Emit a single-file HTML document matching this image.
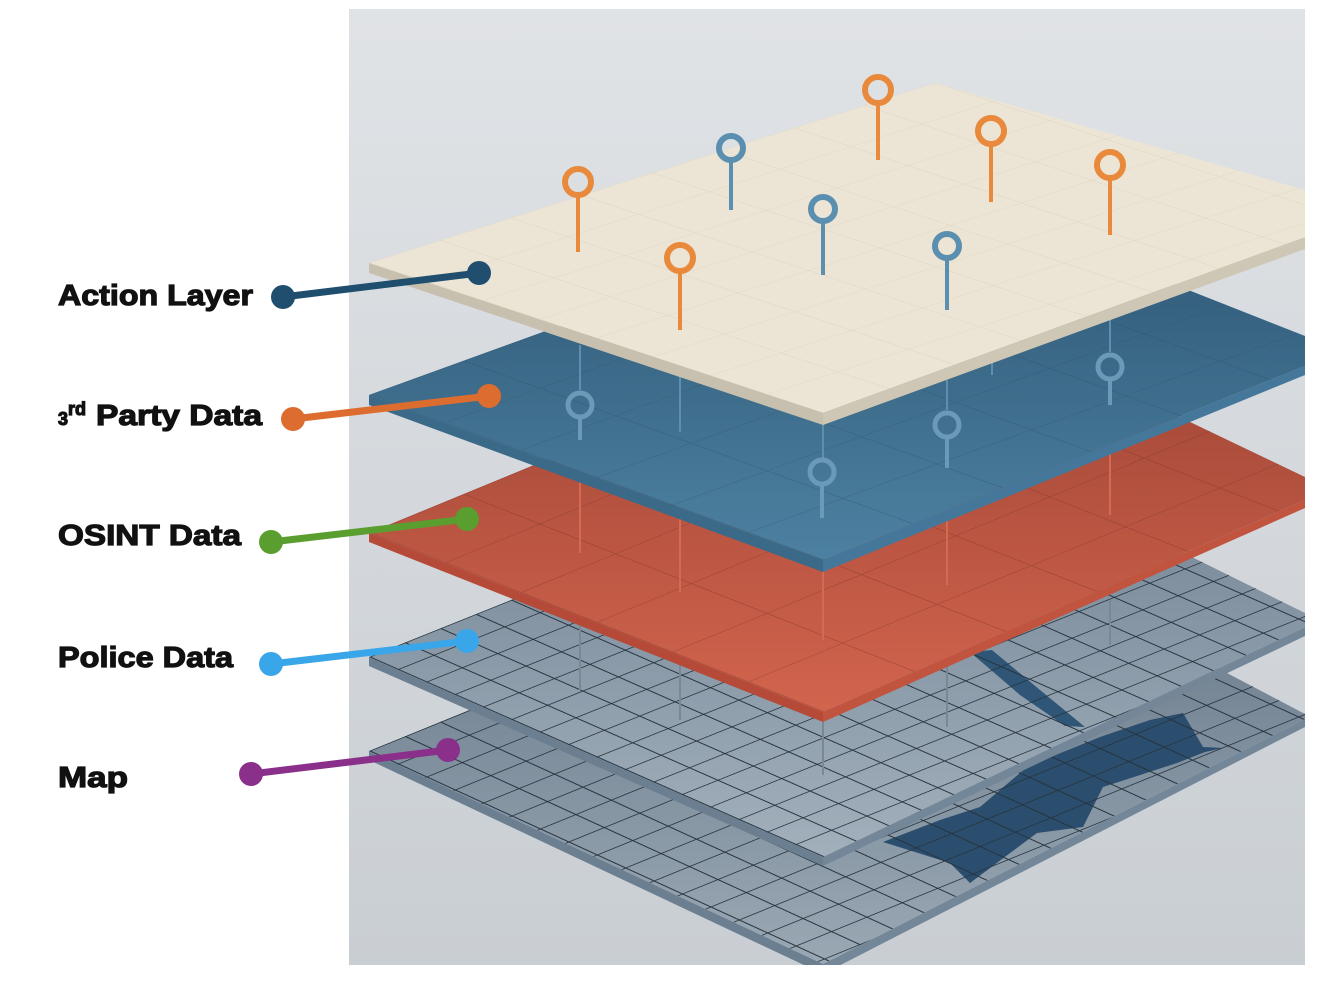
<!DOCTYPE html>
<html><head><meta charset="utf-8"><style>
html,body{margin:0;padding:0;background:#fff;width:1326px;height:981px;overflow:hidden}
svg{display:block}
</style></head><body>
<svg width="1326" height="981" viewBox="0 0 1326 981" xmlns="http://www.w3.org/2000/svg">
<defs>
<linearGradient id="bg" x1="0" y1="0" x2="0" y2="1">
<stop offset="0" stop-color="#e0e3e6"/><stop offset="1" stop-color="#c9ced3"/></linearGradient>
<clipPath id="panel"><rect x="349" y="9" width="956" height="956"/></clipPath>
<linearGradient id="blueG" x1="0" y1="0" x2="0" y2="1">
<stop offset="0" stop-color="#2c5472"/><stop offset="1" stop-color="#4d81a1"/></linearGradient>
<linearGradient id="redG" x1="0" y1="0" x2="0" y2="1">
<stop offset="0" stop-color="#9a4234"/><stop offset="1" stop-color="#d2644d"/></linearGradient>
<linearGradient id="polG" x1="0" y1="0" x2="0" y2="1">
<stop offset="0" stop-color="#6f8090"/><stop offset="1" stop-color="#a2b0bc"/></linearGradient>
<linearGradient id="mapG" x1="0" y1="0" x2="0" y2="1">
<stop offset="0" stop-color="#627383"/><stop offset="1" stop-color="#9aa8b4"/></linearGradient>
<pattern id="gA" width="100" height="100" patternUnits="userSpaceOnUse" patternTransform="matrix(0.5675,0.1875,0.7075,-0.225,369,263)"><path d="M0 0H100M0 0V100" stroke="#ddd4c1" stroke-width="2" fill="none"/></pattern>
<pattern id="gB" width="100" height="100" patternUnits="userSpaceOnUse" patternTransform="matrix(0.757,0.275,0.943,-0.342,369,395)"><path d="M0 0H100M0 0V100" stroke="#2b4f68" stroke-width="2" fill="none" opacity="0.45"/></pattern>
<pattern id="gR" width="100" height="100" patternUnits="userSpaceOnUse" patternTransform="matrix(0.757,0.298,0.943,-0.388,369,533)"><path d="M0 0H100M0 0V100" stroke="#7e3328" stroke-width="2" fill="none" opacity="0.5"/></pattern>
<pattern id="gP" width="100" height="100" patternUnits="userSpaceOnUse" patternTransform="matrix(0.284,0.125,0.354,-0.142,369,657)"><path d="M0 0H100M0 0V100" stroke="#26333f" stroke-width="7" fill="none"/></pattern>
<pattern id="gM" width="100" height="100" patternUnits="userSpaceOnUse" patternTransform="matrix(0.284,0.13,0.354,-0.144,369,751)"><path d="M0 0H100M0 0V100" stroke="#26333f" stroke-width="7" fill="none"/></pattern>
</defs>
<rect x="349" y="9" width="956" height="956" fill="url(#bg)"/>
<g clip-path="url(#panel)">
<polygon points="369,751 823,964 823,974 369,760" fill="#6b7f91"/>
<polygon points="823,964 1305,719 1305,727 823,974" fill="#738799"/>
<polygon points="369,751 935,520 1305,714 1305,719 823,964" fill="url(#mapG)"/>
<polygon points="883,842 940,820 980,807 1027,767 1063,752 1100,737 1150,720 1183,713 1203,747 1223,748 1205,752 1177,763 1103,787 1083,827 1037,833 970,883 950,863" fill="#2b4e6e"/>
<polygon points="369,751 935,520 1305,714 1305,719 823,964" fill="url(#gM)"/>
<polygon points="369,657 823,857 823,866 369,666" fill="#6b7f91"/>
<polygon points="823,857 1305,627 1305,636 823,866" fill="#738799"/>
<polygon points="369,657 935,430 1305,613 1305,627 823,857" fill="url(#polG)"/>
<polygon points="970,652 992,650 1040,690 1085,727 1065,726 1020,695" fill="#2f5676"/>
<polygon points="369,657 935,430 1305,613 1305,627 823,857" fill="url(#gP)"/>
<g stroke="#7b8794" stroke-width="2"><line x1="580" y1="620" x2="580" y2="690"/><line x1="680" y1="650" x2="680" y2="720"/><line x1="823" y1="700" x2="823" y2="775"/><line x1="947" y1="660" x2="947" y2="727"/><line x1="1110" y1="600" x2="1110" y2="645"/></g>
<polygon points="369,533 823,712 823,722 369,542" fill="#b64a38"/>
<polygon points="823,712 1305,500 1305,508 823,722" fill="#c0543f"/>
<polygon points="369,533 935,300 1305,477 1305,500 823,712" fill="url(#redG)"/>
<polygon points="369,533 935,300 1305,477 1305,500 823,712" fill="url(#gR)"/>
<g stroke="#d46a52" stroke-width="2"><line x1="580" y1="480" x2="580" y2="553"/><line x1="680" y1="500" x2="680" y2="592"/><line x1="823" y1="560" x2="823" y2="640"/><line x1="947" y1="500" x2="947" y2="585"/><line x1="1110" y1="450" x2="1110" y2="515"/></g>
<polygon points="369,395 823,560 823,572 369,405" fill="#3b6988"/>
<polygon points="823,560 1305,366 1305,375 823,572" fill="#44779a"/>
<polygon points="369,395 935,190 1305,336 1305,366 823,560" fill="url(#blueG)"/>
<polygon points="369,395 935,190 1305,336 1305,366 823,560" fill="url(#gB)"/>
<g stroke="#5e8fae" stroke-width="2"><line x1="580" y1="345" x2="580" y2="390"/><line x1="680" y1="355" x2="680" y2="432"/><line x1="823" y1="420" x2="823" y2="458"/><line x1="947" y1="380" x2="947" y2="410"/><line x1="1110" y1="315" x2="1110" y2="352"/><line x1="992" y1="355" x2="992" y2="375"/></g>
<g fill="none" stroke="#6b9ab8" stroke-width="5">
<circle cx="580" cy="405" r="12"/><circle cx="947" cy="425" r="12"/><circle cx="822" cy="472" r="12"/><circle cx="1110" cy="367" r="12"/></g>
<g stroke="#6b9ab8" stroke-width="4"><line x1="580" y1="417" x2="580" y2="440"/><line x1="947" y1="437" x2="947" y2="468"/><line x1="822" y1="484" x2="822" y2="518"/><line x1="1110" y1="379" x2="1110" y2="405"/></g>
<polygon points="369,263 823,413 823,425 369,273" fill="#c8c0ae"/>
<polygon points="823,413 1305,237 1305,249 823,425" fill="#cfc7b5"/>
<polygon points="369,263 935,83 1305,190 1305,237 823,413" fill="#ece5d5"/>
<polygon points="369,263 935,83 1305,190 1305,237 823,413" fill="url(#gA)"/>
<g stroke="#e8893c" stroke-width="4"><line x1="578" y1="196" x2="578" y2="252"/><line x1="680" y1="272" x2="680" y2="330"/><line x1="878" y1="104" x2="878" y2="160"/><line x1="991" y1="145" x2="991" y2="202"/><line x1="1110" y1="179" x2="1110" y2="235"/></g>
<g fill="none" stroke="#e8893c" stroke-width="6"><circle cx="578" cy="182" r="13"/><circle cx="680" cy="258" r="13"/><circle cx="878" cy="90" r="13"/><circle cx="991" cy="131" r="13"/><circle cx="1110" cy="165" r="13"/></g>
<g stroke="#5b8fb0" stroke-width="4"><line x1="731" y1="161" x2="731" y2="210"/><line x1="823" y1="222" x2="823" y2="275"/><line x1="947" y1="259" x2="947" y2="310"/></g>
<g fill="none" stroke="#5b8fb0" stroke-width="6"><circle cx="731" cy="148" r="12"/><circle cx="823" cy="209" r="12"/><circle cx="947" cy="246" r="12"/></g>
</g>
<g stroke-width="7" stroke-linecap="round">
<line x1="283" y1="297" x2="479" y2="273" stroke="#1f4e6e"/>
<line x1="293" y1="419" x2="489" y2="396" stroke="#dd6c2f"/>
<line x1="271" y1="542" x2="467" y2="519" stroke="#5a9e30"/>
<line x1="271" y1="664" x2="467" y2="641" stroke="#3aa6ea"/>
<line x1="251" y1="774" x2="448" y2="750" stroke="#8a2f8a"/>
</g>
<circle cx="283" cy="297" r="12" fill="#1f4e6e"/><circle cx="479" cy="273" r="12" fill="#1f4e6e"/>
<circle cx="293" cy="419" r="12" fill="#dd6c2f"/><circle cx="489" cy="396" r="12" fill="#dd6c2f"/>
<circle cx="271" cy="542" r="12" fill="#5a9e30"/><circle cx="467" cy="519" r="12" fill="#5a9e30"/>
<circle cx="271" cy="664" r="12" fill="#3aa6ea"/><circle cx="467" cy="641" r="12" fill="#3aa6ea"/>
<circle cx="251" cy="774" r="12" fill="#8a2f8a"/><circle cx="448" cy="750" r="12" fill="#8a2f8a"/>
<g font-family="Liberation Sans, sans-serif" font-weight="bold" font-size="29" fill="#111" stroke="#111" stroke-width="1.2">
<text x="58" y="305" textLength="195" lengthAdjust="spacingAndGlyphs">Action Layer</text>
<text x="58" y="425"><tspan font-size="18">3</tspan><tspan font-size="18" dy="-10">rd</tspan><tspan dy="10" dx="10" textLength="166" lengthAdjust="spacingAndGlyphs">Party Data</tspan></text>
<text x="58" y="545" textLength="183" lengthAdjust="spacingAndGlyphs">OSINT Data</text>
<text x="58" y="667" textLength="175" lengthAdjust="spacingAndGlyphs">Police Data</text>
<text x="58" y="787" textLength="70" lengthAdjust="spacingAndGlyphs">Map</text>
</g>
</svg>
</body></html>
